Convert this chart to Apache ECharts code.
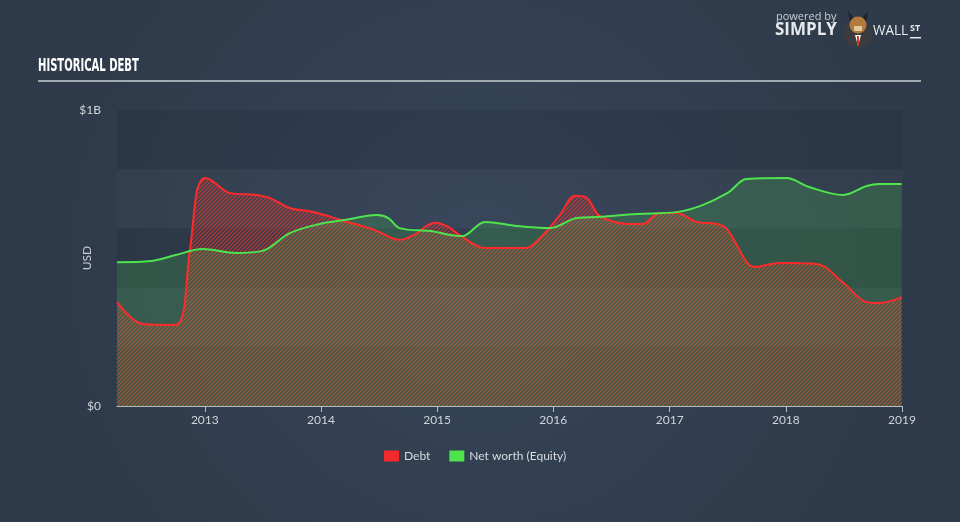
<!DOCTYPE html>
<html><head><meta charset="utf-8">
<script src="https://cdn.jsdelivr.net/npm/echarts@6/dist/echarts.min.js"></script>
<style>html,body{margin:0;padding:0;background:#333f4f;}#c{width:960px;height:522px;}</style>
</head><body><div id="c"></div>
<script>
// ---- Data (USD millions) ----
const debtDates = ['2012-03-31','2012-06-20','2012-10-01','2012-11-15','2012-12-08','2013-01-01','2013-01-25','2013-03-19','2013-06-12','2013-07-23','2013-09-25','2013-12-05','2014-03-15','2014-06-18','2014-09-05','2014-10-20','2014-12-25','2015-02-05','2015-03-12','2015-05-30','2015-10-08','2015-11-25','2016-01-20','2016-03-10','2016-04-15','2016-05-26','2016-08-28','2016-10-08','2016-11-30','2017-01-22','2017-03-27','2017-05-29','2017-07-02','2017-08-31','2017-09-25','2017-12-12','2018-04-08','2018-06-28','2018-09-12','2018-10-22','2018-12-31'];
const debtValues = [351,277,274,527,730,770,760,720,713,703,669,656,625,595,561,578,619,605,578,534,534,573,642,710,703,642,615,615,652,652,622,615,595,486,470,483,480,419,351,348,368];
const equityDates = ['2012-03-31','2012-07-18','2012-10-01','2012-12-25','2013-04-08','2013-07-01','2013-09-25','2013-12-28','2014-03-15','2014-06-25','2014-08-01','2014-09-05','2014-12-10','2015-03-20','2015-06-01','2015-09-10','2015-12-20','2016-03-15','2016-05-26','2016-09-20','2017-01-22','2017-04-10','2017-07-02','2017-08-31','2018-01-03','2018-03-15','2018-06-30','2018-09-12','2018-10-22','2018-12-31'];
const equityValues = [486,490,510,530,517,524,584,615,628,645,635,601,591,574,622,608,601,635,639,649,655,677,720,767,770,740,713,743,750,750];
const yearTicks = ['2013','2014','2015','2016','2017','2018','2019'];
const yTickLabels = {0:'$0', 1000:'$1B'};
const yAxisTitle = 'USD';

function hatch(color){
  const c = document.createElement('canvas');
  c.width = 4; c.height = 4;
  const g = c.getContext('2d');
  g.strokeStyle = color; g.lineWidth = 1.4;
  g.beginPath();
  g.moveTo(-1,5); g.lineTo(5,-1);
  g.moveTo(-1,1); g.lineTo(1,-1);
  g.moveTo(3,5); g.lineTo(5,3);
  g.stroke();
  return c;
}

const chart = echarts.init(document.getElementById('c'), null, {renderer:'canvas'});
const axisFont = 'Lato, "Noto Sans", sans-serif';
chart.setOption({
  backgroundColor: {type:'radial', x:0.5, y:0.5, r:0.8, colorStops:[{offset:0,color:'#36455a'},{offset:1,color:'#2f3b4a'}]},
  animation:false,
  graphic:[
    {type:'text', x:38, y:58, scaleX:0.59, style:{text:'HISTORICAL DEBT', fill:'#ffffff', font:'bold 17px "DejaVu Sans", sans-serif'}},
    {type:'rect', shape:{x:38, y:80, width:883, height:2}, style:{fill:'#a1a9b1'}},
    {type:'text', x:87, y:258, rotation:Math.PI/2, style:{text:yAxisTitle, fill:'#c9ced4', font:'12px Lato, "Noto Sans", sans-serif', align:'center', verticalAlign:'middle'}},
    {type:'text', left:776, top:11, style:{text:'powered by', fill:'#c9ced4', font:'11px "Open Sans", sans-serif'}},
    {type:'text', left:775, top:22, style:{text:'SIMPLY', fill:'#e6e9ec', font:'bold 17px "Open Sans", sans-serif'}},
    {type:'circle', shape:{cx:858, cy:34, r:14}, style:{fill:'#3b3b40'}},
    {type:'polygon', shape:{points:[[850,22],[848,11],[853,17]]}, style:{fill:'#222'}},
    {type:'polygon', shape:{points:[[866,22],[868,11],[863,17]]}, style:{fill:'#222'}},
    {type:'circle', shape:{cx:858, cy:25, r:8.5}, style:{fill:'#b27b3c'}},
    {type:'rect', shape:{x:854, y:26, width:8, height:5}, style:{fill:'#e2c8a0'}},
    {type:'polygon', shape:{points:[[855,35],[861,35],[858,46]]}, style:{fill:'#ffffff'}},
    {type:'rect', shape:{x:857, y:36, width:2, height:9}, style:{fill:'#d0401e'}},
    {type:'text', left:873, top:23, scaleX:0.9, style:{text:'WALL', fill:'#e6e9ec', font:'15px "Open Sans", sans-serif'}},
    {type:'text', left:910, top:24, style:{text:'ST', fill:'#e6e9ec', font:'bold 9px "Open Sans", sans-serif'}},
    {type:'rect', shape:{x:910, y:37, width:11, height:1.5}, style:{fill:'#e6e9ec'}}
  ],
  legend:{
    left:384, top:450, padding:0, itemWidth:15, itemHeight:11, itemGap:19,
    icon:'rect',
    textStyle:{color:'#d7dbe0', fontSize:12, fontFamily:axisFont},
    data:[{name:'Debt', itemStyle:{color:'#ee2a2a'}},{name:'Net worth (Equity)', itemStyle:{color:'#4ee44e'}}]
  },
  grid:{left:117, right:58, top:110, bottom:116},
  xAxis:{
    type:'time', min:'2012-03-31', max:'2019-01-01',
    minInterval: 365*24*3600*1000, maxInterval: 366*24*3600*1000,
    axisLine:{lineStyle:{color:'#b8bfc7', width:1}},
    axisTick:{show:true, length:6, lineStyle:{color:'#b8bfc7'}},
    splitLine:{show:false},
    axisLabel:{color:'#d0d4d9', fontSize:12, fontFamily:axisFont, margin:8, showMinLabel:false, showMaxLabel:true,
      formatter: v => { const y = String(new Date(v).getFullYear()); return yearTicks.includes(y) ? y : ''; }}
  },
  yAxis:{
    type:'value', min:0, max:1000, interval:200,
    axisLine:{show:false}, axisTick:{show:false},
    splitLine:{show:false},
    splitArea:{show:true, areaStyle:{color:['rgba(22,30,42,0.16)','rgba(255,255,255,0.015)']}},
    axisLabel:{color:'#d0d4d9', fontSize:12, fontFamily:axisFont, margin:16,
      formatter: v => yTickLabels[v] || ''}
  },
  series:[
    {name:'Debt', type:'line', smooth:0.35, symbol:'none',
     data: debtDates.map((d,i)=>[d, debtValues[i]]),
     lineStyle:{color:'#ff2b2b', width:2},
     itemStyle:{color:'#ee2a2a'},
     areaStyle:{color:{image:hatch('rgba(238,58,45,0.68)'), repeat:'repeat'}, opacity:1}
    },
    {name:'Net worth (Equity)', type:'line', smooth:0.35, symbol:'none',
     data: equityDates.map((d,i)=>[d, equityValues[i]]),
     lineStyle:{color:'#4ee44e', width:2},
     itemStyle:{color:'#4ee44e'},
     areaStyle:{color:'rgba(78,228,78,0.25)'}
    }
  ]
});
</script></body></html>
